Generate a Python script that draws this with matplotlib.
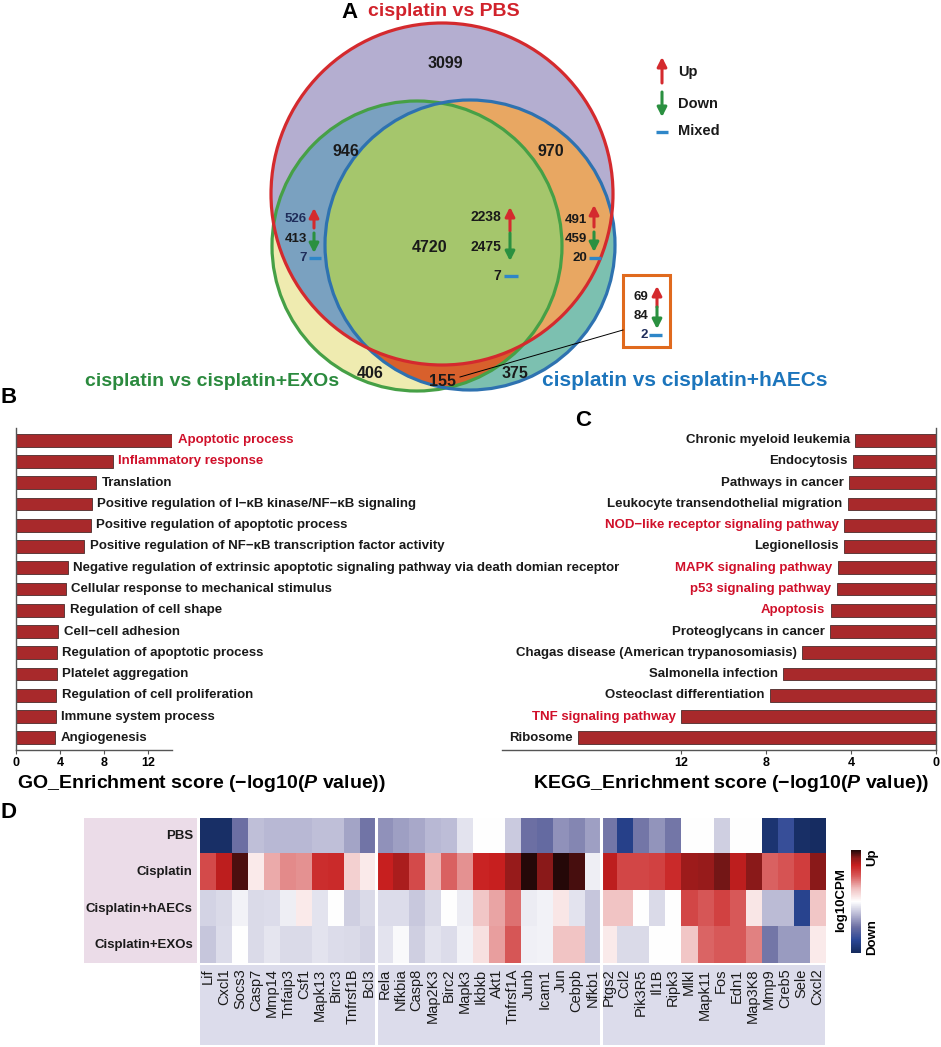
import numpy as np
import matplotlib
matplotlib.use('Agg')
import matplotlib.pyplot as plt
from matplotlib.patches import Circle, Rectangle, Polygon
from matplotlib.colors import LinearSegmentedColormap, Normalize
import matplotlib.cm as cm

plt.rcParams['font.family'] = ['Liberation Sans', 'DejaVu Sans']
plt.rcParams['font.weight'] = 'bold'
plt.rcParams['mathtext.fontset'] = 'custom'
plt.rcParams['mathtext.rm'] = 'Liberation Sans:bold'
plt.rcParams['mathtext.it'] = 'Liberation Sans:italic:bold'

# ---------------- DATA ----------------
set_names = ['cisplatin vs PBS', 'cisplatin vs cisplatin+EXOs', 'cisplatin vs cisplatin+hAECs']
only_pbs = 3099
pbs_exos = 946
pbs_haecs = 970
all_three = 4720
only_exos = 406
exos_haecs = 155
only_haecs = 375
left_udm = [526, 413, 7]
center_udm = [2238, 2475, 7]
right_udm = [491, 459, 20]
box_udm = [69, 84, 2]
legend_labels = ['Up', 'Down', 'Mixed']

go_terms = ['Apoptotic process', 'Inflammatory response', 'Translation',
            'Positive regulation of I\u2212\u03baB kinase/NF\u2212\u03baB signaling',
            'Positive regulation of apoptotic process',
            'Positive regulation of NF\u2212\u03baB transcription factor activity',
            'Negative regulation of extrinsic apoptotic signaling pathway via death domian receptor',
            'Cellular response to mechanical stimulus', 'Regulation of cell shape',
            'Cell\u2212cell adhesion', 'Regulation of apoptotic process', 'Platelet aggregation',
            'Regulation of cell proliferation', 'Immune system process', 'Angiogenesis']
go_scores = [14.15, 8.78, 7.3, 6.88, 6.8, 6.2, 4.73, 4.55, 4.4, 3.86, 3.7, 3.7, 3.65, 3.63, 3.6]
go_highlight = [1, 1, 0, 0, 0, 0, 0, 0, 0, 0, 0, 0, 0, 0, 0]

kegg_terms = ['Chronic myeloid leukemia', 'Endocytosis', 'Pathways in cancer',
              'Leukocyte transendothelial migration', 'NOD\u2212like receptor signaling pathway',
              'Legionellosis', 'MAPK signaling pathway', 'p53 signaling pathway', 'Apoptosis',
              'Proteoglycans in cancer', 'Chagas disease (American trypanosomiasis)',
              'Salmonella infection', 'Osteoclast differentiation', 'TNF signaling pathway', 'Ribosome']
kegg_scores = [3.81, 3.92, 4.09, 4.16, 4.33, 4.34, 4.61, 4.67, 4.96, 4.98, 6.29, 7.19, 7.81, 12.0, 16.83]
kegg_highlight = [0, 0, 0, 0, 1, 0, 1, 1, 1, 0, 0, 0, 0, 1, 0]

conditions = ['PBS', 'Cisplatin', 'Cisplatin+hAECs', 'Cisplatin+EXOs']
genes = ['Lif', 'Cxcl1', 'Socs3', 'Casp7', 'Mmp14', 'Tnfaip3', 'Csf1', 'Mapk13', 'Birc3', 'Tnfrsf1B', 'Bcl3',
         'Rela', 'Nfkbia', 'Casp8', 'Map2K3', 'Birc2', 'Mapk3', 'Ikbkb', 'Akt1', 'Tnfrsf1A', 'Junb', 'Icam1',
         'Jun', 'Cebpb', 'Nfkb1',
         'Ptgs2', 'Ccl2', 'Pik3R5', 'Il1B', 'Ripk3', 'Mlkl', 'Mapk11', 'Fos', 'Edn1', 'Map3K8', 'Mmp9',
         'Creb5', 'Sele', 'Cxcl2']
group_sizes = [11, 14, 14]
pbs_vals = [-0.95, -0.95, -0.5, -0.22, -0.25, -0.25, -0.25, -0.22, -0.22, -0.32, -0.48,
            -0.38, -0.33, -0.3, -0.25, -0.23, -0.1, 0.0, 0.0, -0.18, -0.5, -0.53, -0.38, -0.42, -0.33,
            -0.47, -0.8, -0.47, -0.37, -0.47, 0.0, 0.0, -0.17, 0.0, 0.0, -0.9, -0.7, -0.95, -0.97]
cis_vals = [0.55, 0.72, 0.93, 0.08, 0.3, 0.38, 0.36, 0.65, 0.66, 0.18, 0.08,
            0.7, 0.77, 0.55, 0.28, 0.48, 0.36, 0.68, 0.7, 0.82, 0.99, 0.85, 0.99, 0.94, -0.06,
            0.72, 0.57, 0.57, 0.58, 0.66, 0.8, 0.82, 0.88, 0.72, 0.85, 0.48, 0.52, 0.6, 0.85]
haecs_vals = [-0.15, -0.13, -0.04, -0.13, -0.12, -0.06, 0.08, -0.1, 0.0, -0.17, -0.13,
              -0.12, -0.12, -0.19, -0.13, 0.0, -0.07, 0.22, 0.32, 0.44, -0.07, -0.04, 0.1, -0.1, -0.2,
              0.23, 0.23, 0.0, -0.13, 0.0, 0.57, 0.51, 0.58, 0.5, 0.1, -0.24, -0.24, -0.78, 0.22]
exos_vals = [-0.2, -0.12, 0.0, -0.13, -0.09, -0.13, -0.13, -0.1, -0.12, -0.13, -0.15,
             -0.1, -0.02, -0.17, -0.1, -0.12, -0.04, 0.12, 0.33, 0.51, -0.05, -0.04, 0.23, 0.23, -0.2,
             0.08, -0.13, -0.13, 0.0, 0.0, 0.22, 0.47, 0.5, 0.5, 0.4, -0.47, -0.35, -0.35, 0.08]

# ---------------- LAYOUT HELPERS ----------------
W, H = 941, 1047
fig = plt.figure(figsize=(W / 100, H / 100), dpi=100)


def rect(x0, y0, x1, y1):
    return [x0 / W, 1 - y1 / H, (x1 - x0) / W, (y1 - y0) / H]


def ftext(x, y, s, **kw):
    fig.text(x / W, 1 - y / H, s, **kw)


TXT = '#1a1a1a'
HIL = '#D0102A'

# ---------------- PANEL A: VENN ----------------
axA = fig.add_axes(rect(0, 0, W, 400))
axA.set_xlim(0, W)
axA.set_ylim(400, 0)
axA.axis('off')

rc, rr = (442, 194), 171
gc, gr = (417, 246), 145
bc, br = (470, 245), 145


def circle_pts(c, r, n=1440):
    t = np.linspace(0, 2 * np.pi, n, endpoint=False)
    return np.column_stack([c[0] + r * np.cos(t), c[1] + r * np.sin(t)])


def inside(p, c, r):
    return np.hypot(p[:, 0] - c[0], p[:, 1] - c[1]) <= r


pg, pb = circle_pts(gc, gr), circle_pts(bc, br)
lens = np.vstack([pg[inside(pg, bc, br)], pb[inside(pb, gc, gr)]])
cen = lens.mean(0)
lens = lens[np.argsort(np.arctan2(lens[:, 1] - cen[1], lens[:, 0] - cen[0]))]

axA.add_patch(Circle(gc, gr, fc='#EFEBB0', ec='none'))
axA.add_patch(Circle(bc, br, fc='#7CC0B0', ec='none'))
axA.add_patch(Polygon(lens, closed=True, fc='#D8602C', ec='none'))
red_fill = Circle(rc, rr, fc='#B4AED0', ec='none')
axA.add_patch(red_fill)
p = Circle(gc, gr, fc='#7AA1C0', ec='none'); axA.add_patch(p); p.set_clip_path(red_fill)
p = Circle(bc, br, fc='#E8A762', ec='none'); axA.add_patch(p); p.set_clip_path(red_fill)
p = Polygon(lens, closed=True, fc='#A5C66C', ec='none'); axA.add_patch(p); p.set_clip_path(red_fill)
axA.add_patch(Circle(gc, gr, fill=False, ec='#46A046', lw=2.3))
axA.add_patch(Circle(bc, br, fill=False, ec='#2E72B0', lw=2.3))
axA.add_patch(Circle(rc, rr, fill=False, ec='#D42A2E', lw=2.3))

axA.text(350, 13, 'A', fontsize=16, ha='center', va='center', color='black')
axA.text(444, 11, set_names[0], fontsize=14, ha='center', va='center', color='#D1222B')
axA.text(212, 381, set_names[1], fontsize=14, ha='center', va='center', color='#2B8A3E')
axA.text(542, 381, set_names[2], fontsize=15, ha='left', va='center', color='#1C75BC')

big = 11.5
for val, (x, y) in [(only_pbs, (445, 63)), (pbs_exos, (346, 152)), (pbs_haecs, (551, 152)),
                    (all_three, (430, 248)), (only_exos, (370, 374)), (exos_haecs, (443, 381)),
                    (only_haecs, (515, 373))]:
    axA.text(x, y, str(val), fontsize=big, ha='center', va='center', color=TXT)

ARW = dict(arrowstyle='-|>,head_length=0.55,head_width=0.28', lw=2.2, shrinkA=0, shrinkB=0)


def up_arrow(x, y0, y1):
    axA.annotate('', xy=(x, y0), xytext=(x, y1), arrowprops=dict(color='#D42A2E', **ARW))


def down_arrow(x, y0, y1):
    axA.annotate('', xy=(x, y1), xytext=(x, y0), arrowprops=dict(color='#2A9040', **ARW))


def dash(x0, x1, y):
    axA.plot([x0, x1], [y, y], color='#2E86C8', lw=2.4, solid_capstyle='butt')


def udm_group(vals, xr, ys, ax_x, arr_up, arr_dn, dash_x, colors, fs):
    for v, y, c in zip(vals, ys, colors):
        axA.text(xr, y, str(v), fontsize=fs, ha='right', va='center', color=c)
    up_arrow(ax_x, *arr_up)
    down_arrow(ax_x, *arr_dn)
    dash(dash_x[0], dash_x[1], ys[2])


NAVY = '#1F2D5A'
udm_group(left_udm, 307, [219, 239, 258], 314, (208, 228), (233, 253), (309, 321), [NAVY, TXT, NAVY], 9.5)
udm_group(center_udm, 501, [217, 247, 276], 510, (207, 231), (233, 261), (504, 518), [TXT, TXT, TXT], 10)
udm_group(right_udm, 587, [220, 239, 258], 594, (205, 227), (232, 252), (589, 601), [TXT, TXT, TXT], 9.5)

axA.add_patch(Rectangle((623, 275), 47, 72, fill=False, ec='#E06A1E', lw=2.2))
udm_group(box_udm, 648, [297, 316, 335], 657, (286, 307), (307, 329), (649, 662), [TXT, TXT, NAVY], 9.5)
axA.plot([460, 623], [377, 330], color='black', lw=0.7)

# legend
up_arrow(662, 57, 83)
down_arrow(662, 92, 117)
dash(656, 668, 132)
for s, y in zip(legend_labels, [72, 104, 131]):
    axA.text(678, y, s, fontsize=10.5, ha='left', va='center', color=TXT)

# ---------------- PANEL B: GO ----------------
ftext(9, 397, 'B', fontsize=16, ha='center', va='center')
axB = fig.add_axes(rect(15.7, 428, 172, 750))
axB.set_zorder(2)
axB.patch.set_visible(False)
n = len(go_terms)
ypos = np.arange(n)
axB.barh(ypos, go_scores, height=0.6, color='#A8292B', edgecolor='#5E3A3A', lw=0.7)
for i, (t, s, h) in enumerate(zip(go_terms, go_scores, go_highlight)):
    axB.text(s + 0.5, i, t, fontsize=9.5, ha='left', va='center', color=HIL if h else TXT, clip_on=False)
axB.set_xlim(0, 14.15)
axB.set_ylim(n - 0.43, -0.57)
axB.set_yticks([])
axB.set_xticks([0, 4, 8, 12])
axB.tick_params(axis='x', labelsize=9, length=3, width=0.8, color='#555555', pad=2)
for sp in ['top', 'right']:
    axB.spines[sp].set_visible(False)
for sp in ['left', 'bottom']:
    axB.spines[sp].set_color('#555555')
    axB.spines[sp].set_linewidth(1)
ftext(17, 783, 'GO_Enrichment score (\u2212log10($\\mathit{P}$ value))', fontsize=14, ha='left', va='center')

# ---------------- PANEL C: KEGG ----------------
ftext(583, 421, 'C', fontsize=16, ha='center', va='center')
axC = fig.add_axes(rect(502, 428, 936, 750))
axC.patch.set_visible(False)
axC.barh(ypos, kegg_scores, height=0.6, color='#A8292B', edgecolor='#5E3A3A', lw=0.7)
for i, (t, s, h) in enumerate(zip(kegg_terms, kegg_scores, kegg_highlight)):
    axC.text(s + 0.25, i, t, fontsize=9.5, ha='right', va='center', color=HIL if h else TXT, clip_on=False)
axC.set_xlim(20.42, 0)
axC.set_ylim(n - 0.43, -0.57)
axC.set_yticks([])
axC.set_xticks([0, 4, 8, 12])
axC.tick_params(axis='x', labelsize=9, length=3, width=0.8, color='#555555', pad=2)
for sp in ['top', 'left']:
    axC.spines[sp].set_visible(False)
for sp in ['right', 'bottom']:
    axC.spines[sp].set_color('#555555')
    axC.spines[sp].set_linewidth(1)
ftext(929, 783, 'KEGG_Enrichment score (\u2212log10($\\mathit{P}$ value))', fontsize=14, ha='right', va='center')

# ---------------- PANEL D: HEATMAP ----------------
ftext(9, 812, 'D', fontsize=16, ha='center', va='center')
cmap = LinearSegmentedColormap.from_list('updown', [
    (0.0, '#142A5C'), (0.125, '#2B4796'), (0.25, '#6C6FA3'), (0.375, '#B8B8D4'), (0.5, '#FFFFFF'),
    (0.625, '#F0C0C0'), (0.75, '#D85A5A'), (0.85, '#C82020'), (0.925, '#8B1A1A'), (1.0, '#200808')])
data = np.array([pbs_vals, cis_vals, haecs_vals, exos_vals])
ng = len(genes)
axD = fig.add_axes(rect(200, 818, 825, 963))
axD.imshow(data, cmap=cmap, vmin=-1, vmax=1, aspect='auto', extent=(0, ng, len(conditions), 0),
           interpolation='nearest')
axD.set_xlim(0, ng)
axD.set_ylim(len(conditions), 0)
for sp in axD.spines.values():
    sp.set_visible(False)
axD.set_yticks([])
axD.set_xticks(np.arange(ng) + 0.5)
axD.set_xticklabels(genes, rotation=90, fontsize=10.5, fontweight='normal', color=TXT)
axD.tick_params(axis='x', length=0, pad=4)
# row label box
axD.add_patch(Rectangle((-7.24, 0), 7.05, len(conditions), fc='#EBDCE8', ec='none', clip_on=False))
for i, c in enumerate(conditions):
    axD.text(-0.45, i + 0.5, c, fontsize=9.5, ha='right', va='center', color=TXT)
# group boxes under gene labels
bounds = np.concatenate([[0], np.cumsum(group_sizes)])
for a, b in zip(bounds[:-1], bounds[1:]):
    axD.add_patch(Rectangle((a, 4.06), b - a, 2.2, fc='#DCDCEB', ec='none', clip_on=False, zorder=0.5))
for bnd in bounds[1:-1]:
    axD.plot([bnd, bnd], [0, 6.26], color='white', lw=2.2, clip_on=False, zorder=3)

cax = fig.add_axes(rect(851, 850, 861, 953))
cb = fig.colorbar(cm.ScalarMappable(norm=Normalize(-1, 1), cmap=cmap), cax=cax)
cb.set_ticks([])
cb.outline.set_visible(False)
ftext(841, 900, 'log10CPM', fontsize=9.5, rotation=90, ha='center', va='center')
ftext(872, 857, 'Up', fontsize=9.5, rotation=90, ha='center', va='center')
ftext(872, 937, 'Down', fontsize=9.5, rotation=90, ha='center', va='center')

fig.savefig('out.png', dpi=100)
